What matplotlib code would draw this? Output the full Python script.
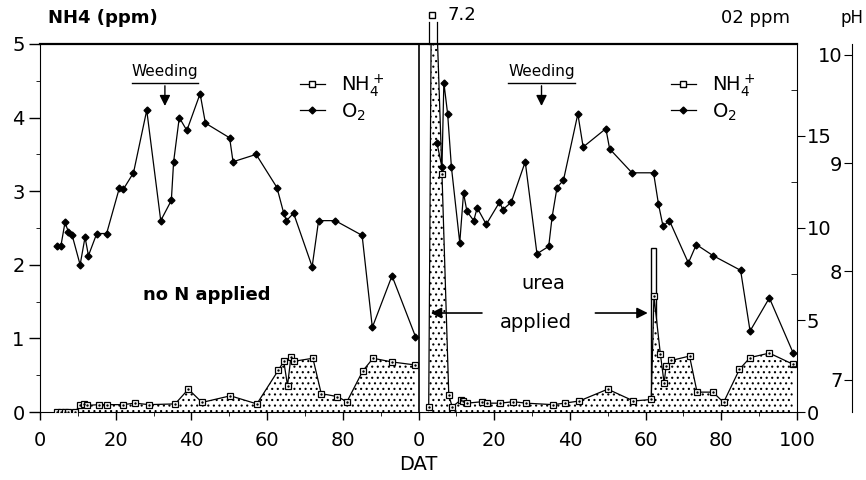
import numpy as np
import matplotlib
matplotlib.use("Agg")
import matplotlib.pyplot as plt
from matplotlib.lines import Line2D
from matplotlib.ticker import MultipleLocator
from matplotlib.transforms import blended_transform_factory

# ---- data ---------------------------------------------------------------
# no N applied (left half), DAT and ppm
nh4_left_dat = [4.5, 5.5, 6.5, 7.5, 9.3, 10.6, 11.5, 12.5, 15.6, 17.6, 21.9, 25.1,
                28.8, 35.7, 39.2, 42.8, 50.3, 57.3, 63.0, 64.4, 65.4, 66.3, 67.2,
                72.1, 74.3, 78.5, 81.1, 85.3, 88.0, 93.0, 99.0]
nh4_left = [0, 0, 0, 0, 0, 0.10, 0.11, 0.09, 0.10, 0.10, 0.10, 0.12,
            0.10, 0.11, 0.31, 0.13, 0.22, 0.11, 0.57, 0.69, 0.36, 0.75, 0.69,
            0.73, 0.25, 0.21, 0.14, 0.56, 0.73, 0.68, 0.64]
o2_left_dat = [4.5, 5.5, 6.6, 7.5, 8.5, 10.6, 11.9, 12.8, 15.0, 17.6, 21.0, 22.0,
               24.7, 28.2, 31.9, 34.7, 35.3, 36.8, 38.8, 42.3, 43.7, 50.1, 51.0,
               57.1, 62.6, 64.4, 65.1, 67.0, 71.9, 73.6, 78.0, 85.1, 87.8, 93.0, 99.2]
o2_left = [9.0, 9.0, 10.3, 9.8, 9.6, 8.0, 9.5, 8.5, 9.7, 9.7, 12.2, 12.1,
           13.0, 16.4, 10.4, 11.5, 13.6, 16.0, 15.3, 17.3, 15.7, 14.9, 13.6,
           14.0, 12.2, 10.8, 10.4, 10.8, 7.9, 10.4, 10.4, 9.6, 4.6, 7.4, 4.1]

# urea applied (right half)
nh4_right_dat = [2.7, 3.6, 6.2, 8.0, 8.9, 11.1, 11.8, 12.9, 16.8, 18.1, 21.6, 25.0,
                 28.5, 35.5, 38.6, 42.5, 50.0, 56.8, 61.5, 62.2, 63.9, 64.9, 65.4,
                 66.8, 71.6, 73.6, 77.8, 80.6, 84.8, 87.6, 92.7, 98.9]
nh4_right = [0.07, 7.2, 3.24, 0.23, 0.07, 0.16, 0.15, 0.12, 0.14, 0.12, 0.12, 0.14,
             0.12, 0.10, 0.12, 0.15, 0.31, 0.15, 0.17, 1.57, 0.79, 0.39, 0.62,
             0.70, 0.76, 0.27, 0.27, 0.13, 0.58, 0.74, 0.80, 0.65]
o2_right_dat = [4.9, 6.2, 6.7, 7.7, 8.7, 10.9, 11.9, 12.8, 14.6, 15.5, 17.9, 21.4,
                22.3, 24.5, 28.2, 31.3, 34.4, 35.3, 36.6, 38.3, 42.1, 43.5, 49.5,
                50.5, 56.4, 62.1, 63.4, 64.6, 66.3, 71.3, 73.4, 77.8, 85.1, 87.6,
                92.7, 99.0]
o2_right = [14.6, 13.3, 17.9, 16.2, 13.3, 9.2, 11.9, 10.9, 10.4, 11.1, 10.2, 11.4,
            11.0, 11.4, 13.6, 8.6, 9.0, 10.6, 12.2, 12.6, 16.2, 14.4, 15.4,
            14.3, 13.0, 13.0, 11.3, 10.1, 10.4, 8.1, 9.1, 8.5, 7.7, 4.4,
            6.2, 3.2]

urea_bar_dat = 62.0
urea_bar_top = 2.23
weeding_dat = [33.0, 32.5]

OFFSET = 100  # right half is drawn after the left half on one axis
xtick_pos = list(range(0, 201, 20))
xtick_labels = ["0", "20", "40", "60", "80", "0", "20", "40", "60", "80", "100"]
o2_ticks = [0, 5, 10, 15]
ph_ticks = [7, 8, 9, 10]

plt.rcParams["hatch.linewidth"] = 0.8

fig = plt.figure(figsize=(8.66, 4.8), dpi=100)
ax = fig.add_axes([40 / 866, 68 / 480, 757 / 866, 368 / 480])
ax2 = ax.twinx()
ax3 = ax.twinx()

xr_nh4 = np.array(nh4_right_dat) + OFFSET
xr_o2 = np.array(o2_right_dat) + OFFSET

# urea pulse bar (open)
ax.bar(urea_bar_dat + OFFSET, urea_bar_top, width=1.3, facecolor="white",
       edgecolor="black", linewidth=1, zorder=1)

# stippled NH4 areas
for xs, ys in [(nh4_left_dat, nh4_left), (xr_nh4, nh4_right)]:
    ax.fill_between(xs, 0, ys, facecolor="white", edgecolor="black",
                    hatch="...", linewidth=0, zorder=2)
    ax.plot(xs, ys, color="black", lw=0.9, marker="s", ms=5, mfc="white",
            mec="black", mew=0.9, zorder=3)
    ax.plot(xs, ys, ls="none", marker=".", ms=1.5, color="black", zorder=4)

# off-scale NH4 peak, marked above the frame
i_pk = int(np.argmax(nh4_right))
pk_x = xr_nh4[i_pk]
trans = blended_transform_factory(ax.transData, ax.transAxes)
ax.plot([pk_x], [1.08], transform=trans, marker="s", ms=5, mfc="white",
        mec="black", clip_on=False)
for dx in (-0.9, 1.4):
    ax.plot([pk_x + dx, pk_x + dx], [1.0, 1.06], transform=trans,
            color="black", lw=0.9, clip_on=False)
ax.text(pk_x + 4, 1.08, f"{nh4_right[i_pk]:.1f}", transform=trans,
        fontsize=13, va="center", ha="left")

# O2 lines
for xs, ys in [(o2_left_dat, o2_left), (xr_o2, o2_right)]:
    ax2.plot(xs, ys, color="black", lw=0.9, marker="D", ms=3.5, zorder=3)

ax.axvline(OFFSET, color="black", lw=1.2)

# axes and ticks
ax.set_xlim(0, 200)
ax.set_ylim(0, 5)
ax.set_xticks(xtick_pos, xtick_labels)
ax.xaxis.set_minor_locator(MultipleLocator(10))
ax.set_yticks(range(0, 6))
ax.yaxis.set_minor_locator(MultipleLocator(0.5))
ax.tick_params(which="major", direction="out", labelsize=14, width=1)
ax.tick_params(axis="x", which="major", length=6, pad=8)
ax.tick_params(axis="y", which="major", length=8, pad=3)
ax.tick_params(which="minor", direction="out", length=3)
ax.spines["top"].set_linewidth(1.6)
ax.spines["right"].set_visible(False)

ax2.set_ylim(0, 20)
ax2.set_yticks(o2_ticks)
ax2.yaxis.set_minor_locator(MultipleLocator(2.5))
ax2.tick_params(axis="y", which="major", direction="out", length=6, pad=1,
                labelsize=14)
ax2.tick_params(axis="y", which="minor", direction="in", length=4)
for s in ["top", "bottom", "left"]:
    ax2.spines[s].set_visible(False)

ax3.set_ylim(6.70, 10.10)
ax3.set_yticks(ph_ticks)
ax3.yaxis.set_ticks_position("left")
ax3.spines["left"].set_position(("axes", (852 - 40) / 757))
ax3.spines["left"].set_visible(True)
for s in ["top", "bottom", "right"]:
    ax3.spines[s].set_visible(False)
ax3.tick_params(axis="y", direction="out", length=6, pad=1, labelsize=14)

# legends
h_nh4 = Line2D([], [], color="black", lw=0.9, marker="s", ms=5, mfc="white", mec="black")
h_o2 = Line2D([], [], color="black", lw=0.9, marker="D", ms=3.5)
leg_kw = dict(loc="upper left", frameon=False, fontsize=14, handlelength=1.3,
              handletextpad=0.8, labelspacing=0.1)
leg1 = ax2.legend([h_nh4, h_o2], ["NH$_4^+$", "O$_2$"], bbox_to_anchor=(0.32, 0.97), **leg_kw)
ax2.add_artist(leg1)
ax2.legend([h_nh4, h_o2], ["NH$_4^+$", "O$_2$"], bbox_to_anchor=(0.81, 0.97), **leg_kw)

# weeding marks
for k, wd in enumerate(weeding_dat):
    x = wd + k * OFFSET
    ax.text(x, 4.62, "Weeding", ha="center", va="center", fontsize=11)
    ax.plot([x - 8.8, x + 8.8], [4.47, 4.47], color="black", lw=1)
    ax.annotate("", xy=(x, 4.12), xytext=(x, 4.47),
                arrowprops=dict(arrowstyle="-|>", color="black", lw=1,
                                mutation_scale=16))

ax.text(44, 1.59, "no N applied", ha="center", va="center", fontsize=13,
        fontweight="bold")
ax.text(OFFSET + 33, 1.75, "urea", ha="center", va="center", fontsize=14)
ax.text(OFFSET + 31, 1.22, "applied", ha="center", va="center", fontsize=14)
ax.annotate("", xy=(OFFSET + 2.5, 1.345), xytext=(OFFSET + 17.5, 1.345),
            arrowprops=dict(arrowstyle="-|>", color="black", lw=1.2, mutation_scale=16))
ax.annotate("", xy=(OFFSET + 61.3, 1.345), xytext=(OFFSET + 46, 1.345),
            arrowprops=dict(arrowstyle="-|>", color="black", lw=1.2, mutation_scale=16))

fig.text(48 / 866, 1 - 18 / 480, "NH4 (ppm)", fontsize=13, fontweight="bold",
         va="center", ha="left")
fig.text(790 / 866, 1 - 18 / 480, "02 ppm", fontsize=13, va="center", ha="right")
fig.text(864 / 866, 1 - 18 / 480, "pH", fontsize=12, va="center", ha="right")
fig.text(418 / 866, 1 - 465 / 480, "DAT", fontsize=14, va="center", ha="center")

fig.savefig("out.png", dpi=100)
